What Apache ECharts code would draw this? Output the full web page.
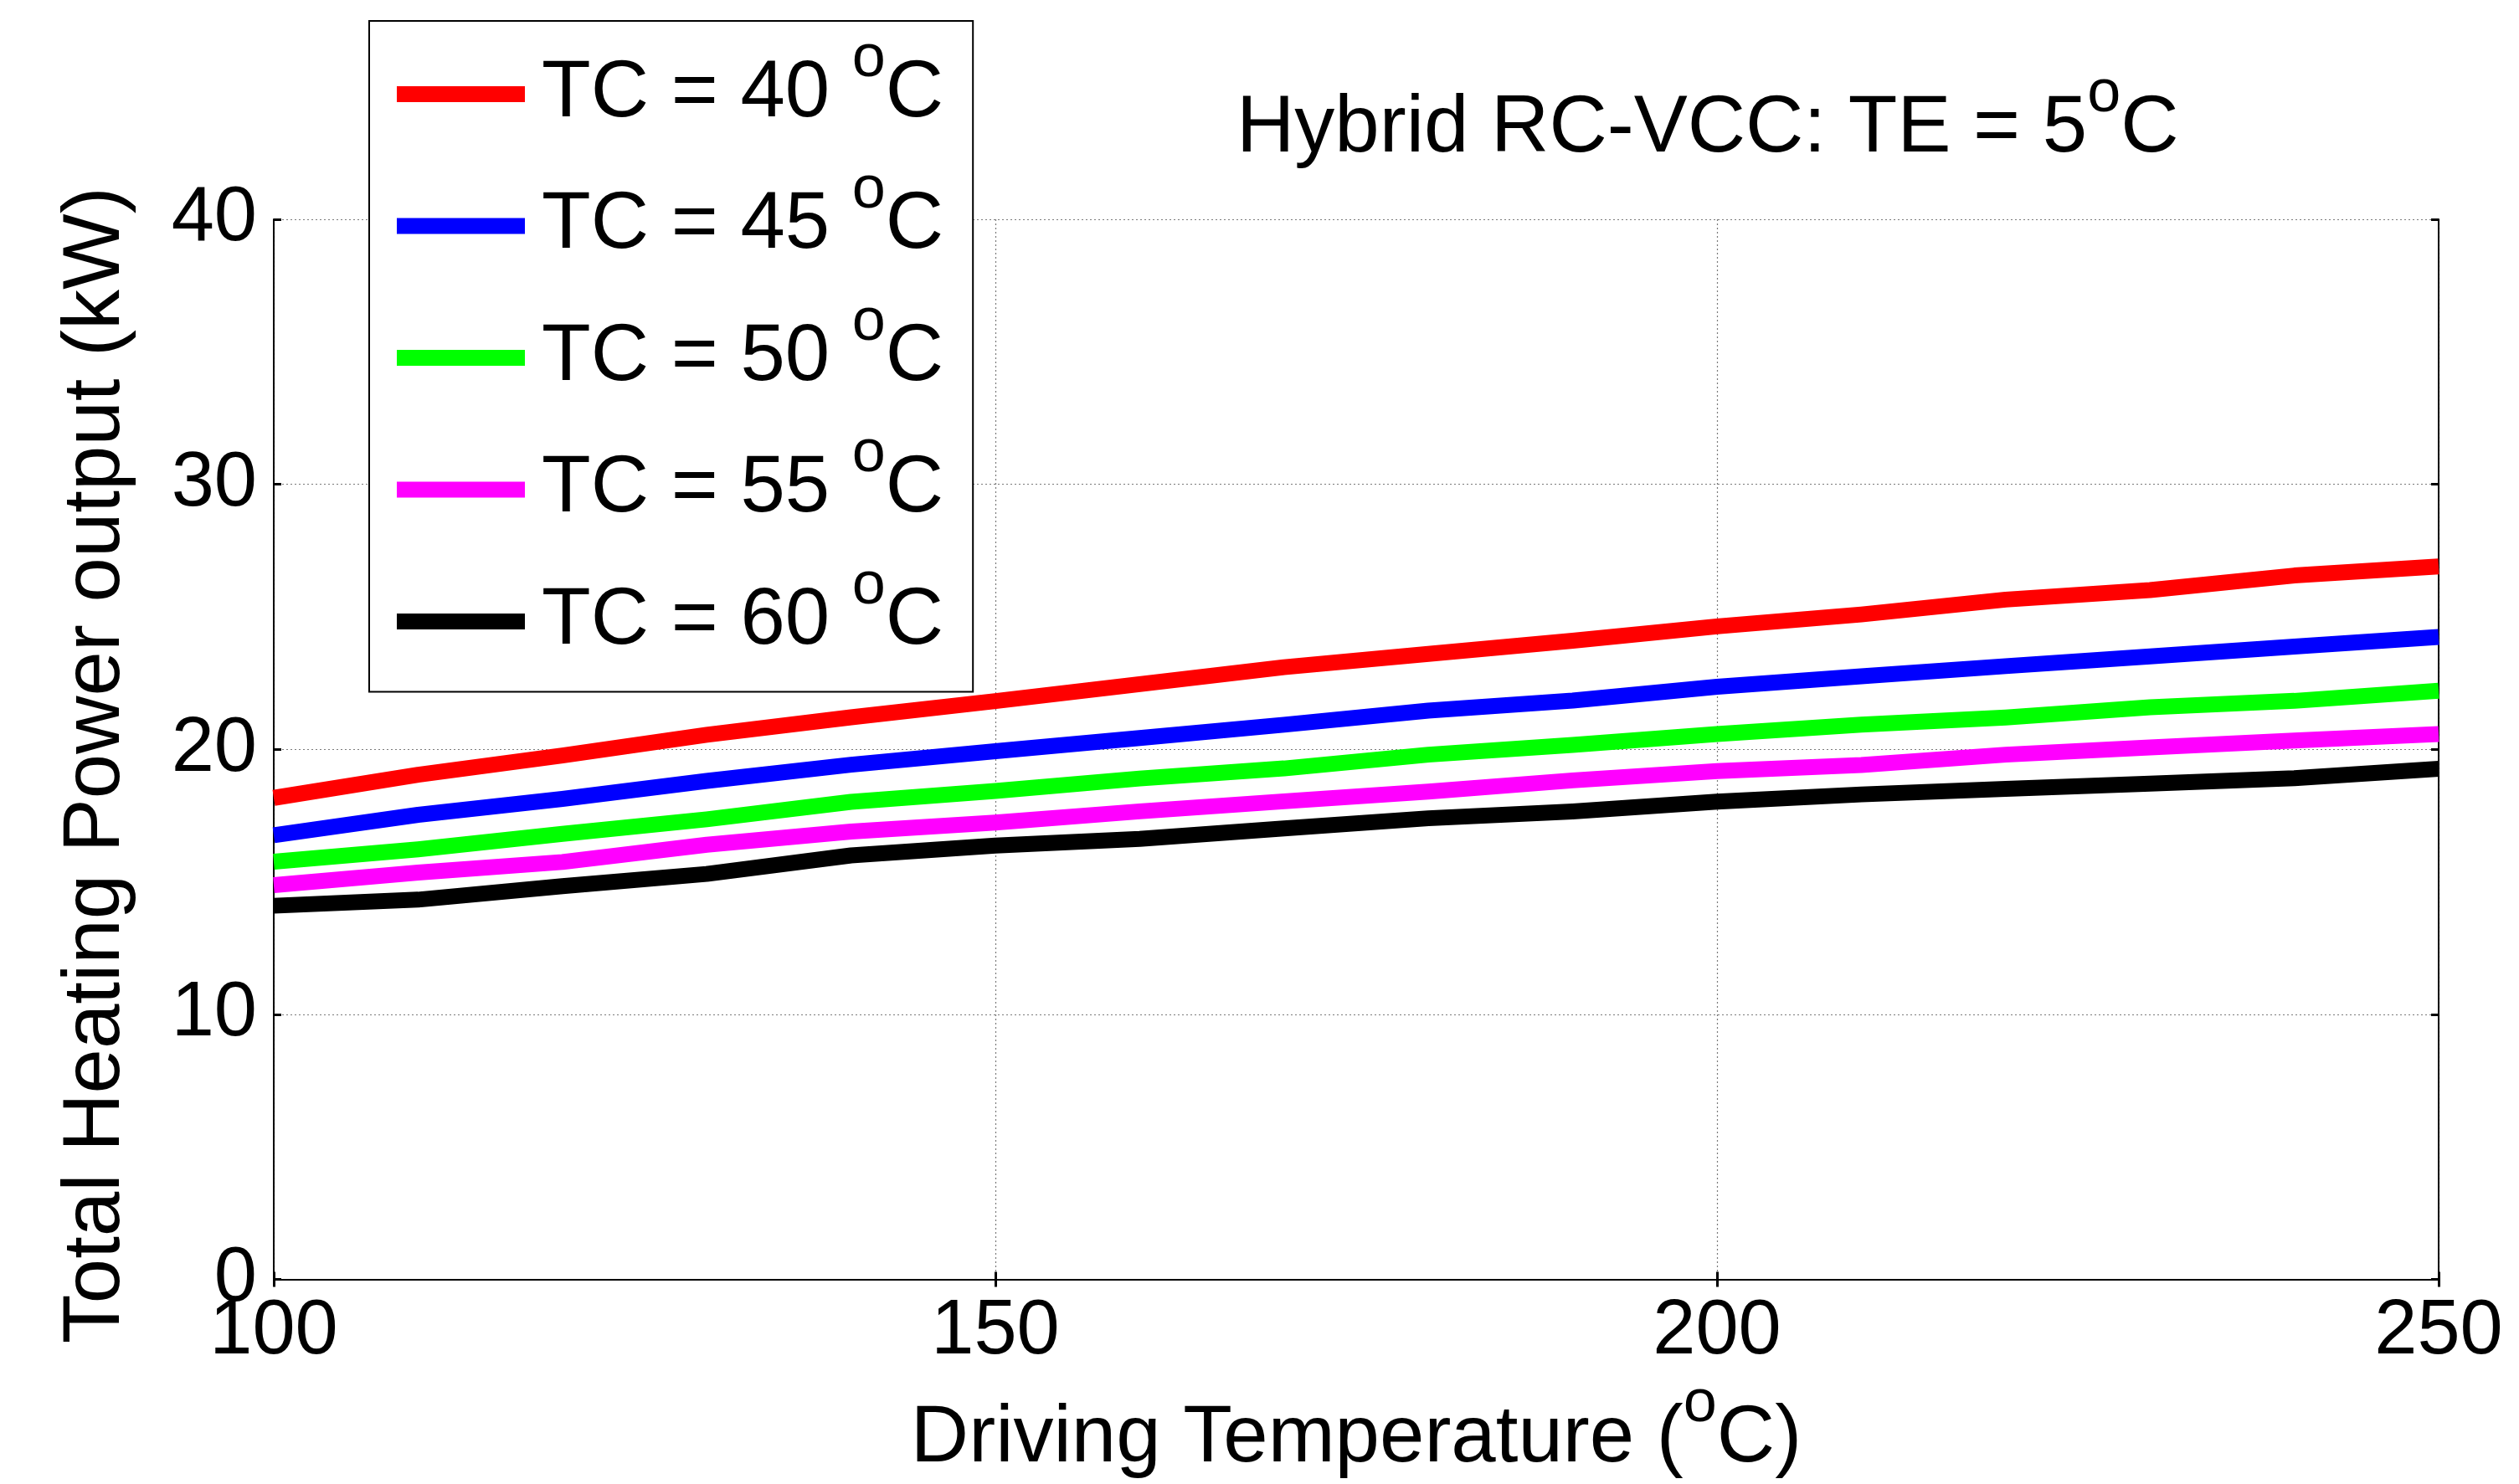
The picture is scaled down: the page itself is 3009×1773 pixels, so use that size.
<!DOCTYPE html>
<html><head><meta charset="utf-8">
<script src="https://cdn.jsdelivr.net/npm/echarts@6/dist/echarts.min.js"></script>
<style>html,body{margin:0;padding:0;background:#fff}#c{width:3009px;height:1773px}</style>
</head><body><div id="c"></div>
<script>
// Driving temperature (°C)
const drivingTemp = [100,110,120,130,140,150,160,170,180,190,200,210,220,230,240,250];
// Total heating power output (kW) for each condenser temperature TC
const tc40 = [18.17,19.04,19.77,20.55,21.21,21.82,22.46,23.10,23.60,24.10,24.64,25.09,25.65,26.01,26.56,26.90];
const tc45 = [16.76,17.53,18.13,18.81,19.42,19.93,20.43,20.93,21.46,21.84,22.36,22.76,23.14,23.51,23.88,24.24];
const tc50 = [15.76,16.23,16.81,17.36,18.02,18.43,18.90,19.28,19.80,20.17,20.58,20.93,21.20,21.59,21.83,22.21];
const tc55 = [14.88,15.35,15.75,16.40,16.90,17.24,17.66,18.04,18.41,18.83,19.18,19.41,19.80,20.07,20.33,20.58];
const tc60 = [14.10,14.33,14.84,15.30,16.00,16.37,16.62,17.02,17.40,17.66,18.03,18.30,18.51,18.71,18.91,19.27];
const tcLabels = ['40','45','50','55','60'];
const seriesNames = ['TC = 40 oC','TC = 45 oC','TC = 50 oC','TC = 55 oC','TC = 60 oC'];
const seriesValues = [tc40, tc45, tc50, tc55, tc60];
const colors = ['#ff0000','#0000ff','#00ff00','#ff00ff','#000000'];
const xRange = [100, 250];
const yRange = [0, 40];

const FONT = 'Liberation Sans';
const richStyles = {
  a: {fontSize: 96, fontFamily: FONT, fontWeight: 'normal', color: '#000', lineHeight: 155},
  p: {fontSize: 96, fontFamily: FONT, fontWeight: 'normal', color: '#000', lineHeight: 155, padding: [0,0,0,15]},
  s: {fontSize: 72, fontFamily: FONT, fontWeight: 'normal', color: '#000', verticalAlign: 'top', lineHeight: 155}
};

const chart = echarts.init(document.getElementById('c'), null, {renderer: 'canvas'});

const series = seriesNames.map((name, k) => ({
  name: name,
  type: 'line',
  data: drivingTemp.map((x, i) => [x, seriesValues[k][i]]),
  showSymbol: false,
  symbol: 'none',
  lineStyle: {width: 19, color: colors[k], cap: 'butt', join: 'round'},
  itemStyle: {color: colors[k]},
  z: 2 + k,
  clip: true
}));

const axisCommonLine = {show: true, lineStyle: {color: '#000', width: 2}};
const tickStyle = {show: true, inside: true, length: 9, lineStyle: {color: '#000', width: 3}};
const gridLine = {show: true, lineStyle: {color: '#7a7a7a', width: 1.2, type: [2, 3]}};

chart.setOption({
  animation: false,
  backgroundColor: '#fff',
  title: {
    text: '{a|Hybrid RC-VCC: TE = 5}{s|o}{a|C}',
    left: 1472,
    top: 72,
    textStyle: {fontWeight: 'normal', rich: richStyles}
  },
  legend: {
    orient: 'vertical',
    left: 441,
    top: 25,
    icon: 'rect',
    itemWidth: 153,
    itemHeight: 19,
    itemGap: 32,
    padding: [10, 35, 36, 33],
    backgroundColor: '#fff',
    borderColor: '#000',
    borderWidth: 2,
    data: seriesNames,
    formatter: function (name) {
      const i = seriesNames.indexOf(name);
      return '{p|TC = ' + tcLabels[i] + ' }{s|o}{a|C}';
    },
    textStyle: {rich: richStyles}
  },
  grid: {left: 327, right: 96, top: 262, bottom: 243, containLabel: false},
  xAxis: [{
    type: 'value', position: 'bottom', min: xRange[0], max: xRange[1], interval: 50,
    name: '{a|Driving Temperature (}{s|o}{a|C)}',
    nameLocation: 'middle', nameGap: 109,
    nameTextStyle: {rich: richStyles},
    axisLine: axisCommonLine, axisTick: tickStyle,
    axisLabel: {fontSize: 92, fontFamily: FONT, color: '#000', margin: 17},
    splitLine: gridLine
  }, {
    type: 'value', position: 'top', min: xRange[0], max: xRange[1], interval: 50,
    axisLine: axisCommonLine, axisTick: tickStyle,
    axisLabel: {show: false}, splitLine: {show: false}
  }],
  yAxis: [{
    type: 'value', position: 'left', min: yRange[0], max: yRange[1], interval: 10,
    name: 'Total Heating Power output (kW)',
    nameLocation: 'middle', nameGap: 163,
    nameTextStyle: {fontSize: 96, fontFamily: FONT, color: '#000', padding: [0, 38, 0, 0]},
    axisLine: axisCommonLine, axisTick: tickStyle,
    axisLabel: {fontSize: 92, fontFamily: FONT, color: '#000', margin: 20},
    splitLine: gridLine
  }, {
    type: 'value', position: 'right', min: yRange[0], max: yRange[1], interval: 10,
    axisLine: axisCommonLine, axisTick: tickStyle,
    axisLabel: {show: false}, splitLine: {show: false}
  }],
  series: series
});
</script>
</body></html>
